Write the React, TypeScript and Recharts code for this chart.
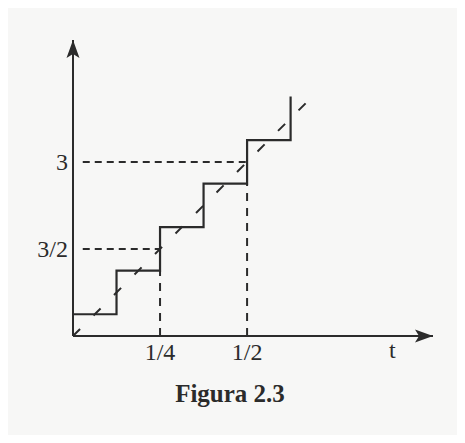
import React from 'react';
import { LineChart, Line, XAxis, YAxis, ReferenceLine, ReferenceDot } from 'recharts';

// staircase: value at the middle of each 1/8 interval of y = 6t
const stepT = [0, 0.125, 0.25, 0.375, 0.5, 0.625];
const stepY = [0.375, 1.125, 1.875, 2.625, 3.375, 4.125];
// dashed line y = 6t
const diagT = [0, 0.7];
const diagY = [0, 4.2];
const xTicks = [0.25, 0.5];
const xTickLabels = ['1/4', '1/2'];
const yTicks = [1.5, 3];
const yTickLabels = ['3/2', '3'];

const steps = stepT.map((t, i) => ({ t, y: stepY[i] }));
const diag = diagT.map((t, i) => ({ t, y: diagY[i] }));

const INK = '#2b2b2b';
const FONT = '"Liberation Serif", "Times New Roman", serif';
const X_MAX = 1.034;
const Y_MAX = 5.1;

const ArrowRight = (props: any) => (
  <path
    d={`M${props.cx},${props.cy} L${props.cx - 18},${props.cy - 6.5} L${props.cx - 14},${props.cy} L${props.cx - 18},${props.cy + 6.5} Z`}
    fill={INK}
  />
);

const ArrowUp = (props: any) => (
  <path
    d={`M${props.cx},${props.cy} L${props.cx - 6.5},${props.cy + 18} L${props.cx},${props.cy + 14} L${props.cx + 6.5},${props.cy + 18} Z`}
    fill={INK}
  />
);

const TLabel = (props: any) => (
  <text x={props.cx} y={props.cy + 22} textAnchor="middle" fontFamily={FONT} fontSize={24} fill={INK}>
    t
  </text>
);

const App = () => {
  return (
    <div style={{ margin: -8, position: 'relative', width: 465, height: 443, background: '#f7f7f6' }}>
      <LineChart width={465} height={443} margin={{ top: 40, right: 32, left: 33, bottom: 77 }}>
        <XAxis
          type="number"
          dataKey="t"
          domain={[0, X_MAX]}
          allowDataOverflow
          ticks={xTicks}
          tickFormatter={(v: number) => xTickLabels[xTicks.indexOf(v)]}
          height={30}
          tickSize={0}
          tickMargin={7}
          axisLine={{ stroke: INK, strokeWidth: 2 }}
          tick={{ fontFamily: FONT, fontSize: 24, fill: INK }}
        />
        <YAxis
          type="number"
          dataKey="y"
          domain={[0, Y_MAX]}
          allowDataOverflow
          ticks={yTicks}
          tickFormatter={(v: number) => yTickLabels[yTicks.indexOf(v)]}
          width={40}
          tickSize={0}
          tickMargin={5}
          axisLine={{ stroke: INK, strokeWidth: 2 }}
          tick={{ fontFamily: FONT, fontSize: 24, fill: INK }}
        />
        <ReferenceLine segment={[{ x: 0.028, y: 3 }, { x: 0.5, y: 3 }]} stroke={INK} strokeWidth={2} strokeDasharray="7 5" />
        <ReferenceLine segment={[{ x: 0.028, y: 1.5 }, { x: 0.25, y: 1.5 }]} stroke={INK} strokeWidth={2} strokeDasharray="7 5" />
        <ReferenceLine segment={[{ x: 0.25, y: 0 }, { x: 0.25, y: 1.125 }]} stroke={INK} strokeWidth={2} strokeDasharray="8 7" />
        <ReferenceLine segment={[{ x: 0.5, y: 0 }, { x: 0.5, y: 2.625 }]} stroke={INK} strokeWidth={2} strokeDasharray="8 7" />
        <Line
          data={diag}
          dataKey="y"
          type="linear"
          stroke={INK}
          strokeWidth={2}
          strokeDasharray="10 19"
          dot={false}
          isAnimationActive={false}
        />
        <Line
          data={steps}
          dataKey="y"
          type="stepAfter"
          stroke={INK}
          strokeWidth={2.2}
          dot={false}
          isAnimationActive={false}
        />
        <ReferenceDot x={X_MAX} y={0} ifOverflow="visible" shape={ArrowRight} />
        <ReferenceDot x={0} y={Y_MAX} ifOverflow="visible" shape={ArrowUp} />
        <ReferenceDot x={0.917} y={0} ifOverflow="visible" shape={TLabel} />
      </LineChart>
      <div
        style={{
          position: 'absolute',
          left: 130,
          top: 381,
          width: 200,
          textAlign: 'center',
          fontFamily: FONT,
          fontWeight: 'bold',
          fontSize: 25,
          lineHeight: '25px',
          color: INK,
        }}
      >
        Figura 2.3
      </div>
    </div>
  );
};

export default App;
